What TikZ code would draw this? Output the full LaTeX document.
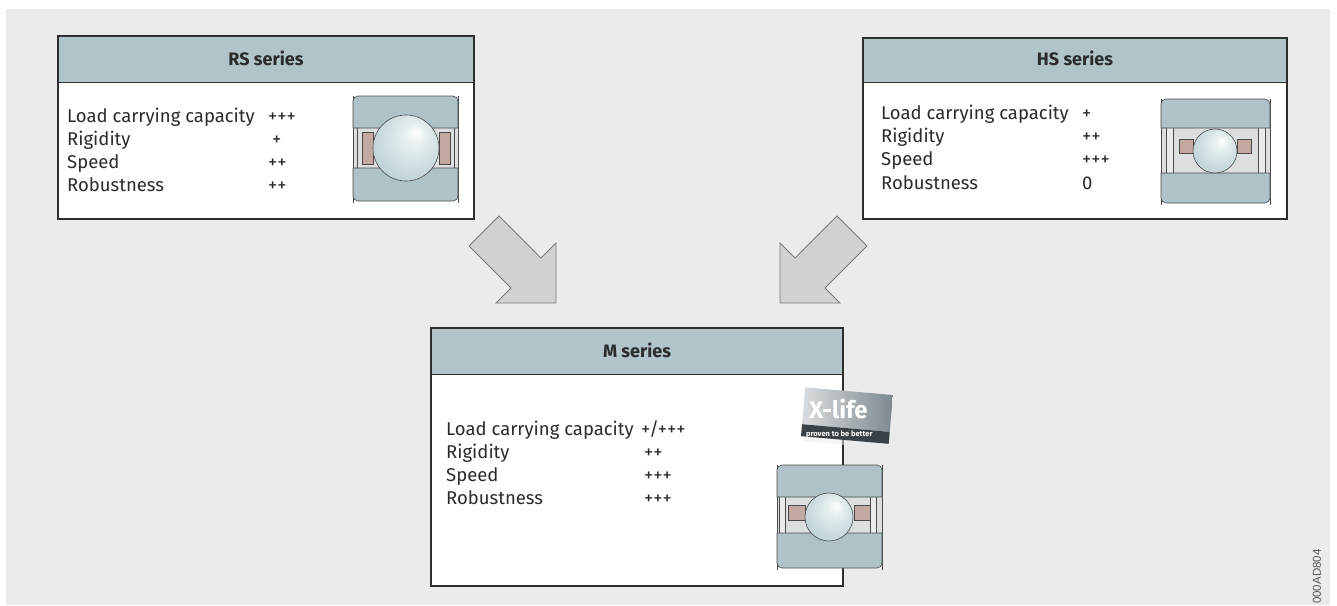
\documentclass[tikz,border=0pt]{standalone}
\usepackage{fontspec}
\setmainfont{Fira Sans}
\newfontfamily\idfont{Liberation Sans}
\usetikzlibrary{calc}
\definecolor{bgc}{HTML}{EBEBED}
\definecolor{headc}{HTML}{B0C4CA}
\definecolor{borderc}{HTML}{2E2E2E}
\definecolor{textc}{HTML}{2B2B2B}
\definecolor{arrfill}{HTML}{D0D1D3}
\definecolor{arrdraw}{HTML}{7B7B7B}
\definecolor{ringc}{HTML}{AEC2C7}
\definecolor{ringd}{HTML}{4A4A4A}
\definecolor{midg}{HTML}{DDDEE0}
\definecolor{cagec}{HTML}{C3A9A1}
\definecolor{ballhi}{HTML}{E6EFF0}
\definecolor{ballmid}{HTML}{BCD1D5}
\definecolor{balledge}{HTML}{8FAEB4}
\definecolor{logol}{HTML}{DADDDF}
\definecolor{logor}{HTML}{7E898F}
\definecolor{logoband}{HTML}{3B4247}
\definecolor{idgray}{HTML}{555555}
\pgfdeclareradialshading{ballshade}{\pgfpoint{8bp}{12bp}}{color(0bp)=(white); color(8bp)=(ballhi); color(32bp)=(ballmid); color(50bp)=(balledge)}
\tikzset{
  seriesbox/.style={draw=borderc, line width=1.5pt, inner sep=0pt},
  headfill/.style={fill=headc},
  lbl/.style={font=\fontsize{18.5}{22}\selectfont, text=textc, anchor=base west, inner sep=0pt},
  ttl/.style={font=\fontsize{18}{22}\selectfont\bfseries, text=textc, anchor=base, inner sep=0pt},
  blockarrow/.style={fill=arrfill, draw=arrdraw, line width=0.9pt, line join=miter},
  ringst/.style={fill=ringc, draw=ringd, line width=0.6pt},
  cagest/.style={fill=cagec, draw=ringd, line width=0.5pt},
  plate/.style={fill=midg!60!white, draw=ringd, line width=0.5pt},
  ballst/.style={draw=ringd, line width=0.6pt},
}
% outer ring: x0, ytop, x1, yinner  (rounded outer corners only)
\newcommand{\ringtop}[4]{\draw[ringst] (#1,#4) -- (#1,#2+5) arc[start angle=180, end angle=90, radius=5pt] -- (#3-5,#2) arc[start angle=90, end angle=0, radius=5pt] -- (#3,#4) -- cycle;}
% inner ring: x0, yinner, x1, ybottom
\newcommand{\ringbot}[4]{\draw[ringst] (#1,#2) -- (#1,#4-5) arc[start angle=180, end angle=270, radius=5pt] -- (#3-5,#4) arc[start angle=270, end angle=360, radius=5pt] -- (#3,#2) -- cycle;}
\begin{document}
\begin{tikzpicture}[x=1pt,y=-1pt]
\useasboundingbox (0,0) rectangle (1337,605);
\fill[bgc] (6,9) rectangle (1330,605);

% ---------- RS box ----------
\coordinate (rs-nw) at (58,36);
\coordinate (rs-se) at (474,219);
\fill[white] (rs-nw) rectangle (rs-se);
\fill[headfill] (rs-nw) rectangle (474,82);
\draw[borderc, line width=1pt] (58,82) -- (474,82);
\draw[seriesbox] (rs-nw) rectangle (rs-se);
\node[ttl] (rs-title) at (266,65) {RS series};
\node[lbl] (rs-l1) at (67,122) {Load carrying capacity};
\node[lbl] (rs-l2) at (67,145) {Rigidity};
\node[lbl] (rs-l3) at (67,168) {Speed};
\node[lbl] (rs-l4) at (67,191) {Robustness};
\node[lbl] (rs-v1) at (268,122) {+++};
\node[lbl] (rs-v2) at (272,145) {+};
\node[lbl] (rs-v3) at (268,168) {++};
\node[lbl] (rs-v4) at (268,191) {++};
% RS bearing
\fill[midg] (353,126) rectangle (458,170);
\draw[ringd, line width=0.5pt] (353,96) -- (353,203) (458,96) -- (458,203);
\draw[ringd, line width=0.5pt] (357,128) -- (357,168) (454,128) -- (454,168);
\ringtop{353}{96}{458}{128}
\ringbot{353}{168}{458}{201}
\draw[cagest] (362,132) rectangle (373,164);
\draw[cagest] (439,132) rectangle (450,164);
\shade[shading=ballshade] (406,148) circle[radius=33pt];
\draw[ballst] (406,148) circle[radius=33pt];

% ---------- HS box ----------
\coordinate (hs-nw) at (863,38);
\coordinate (hs-se) at (1287,219);
\fill[white] (hs-nw) rectangle (hs-se);
\fill[headfill] (hs-nw) rectangle (1287,82);
\draw[borderc, line width=1pt] (863,82) -- (1287,82);
\draw[seriesbox] (hs-nw) rectangle (hs-se);
\node[ttl] (hs-title) at (1075,65) {HS series};
\node[lbl] (hs-l1) at (881,119) {Load carrying capacity};
\node[lbl] (hs-l2) at (881,142) {Rigidity};
\node[lbl] (hs-l3) at (881,165) {Speed};
\node[lbl] (hs-l4) at (881,189) {Robustness};
\node[lbl] (hs-v1) at (1082,119) {+};
\node[lbl] (hs-v2) at (1082,142) {++};
\node[lbl] (hs-v3) at (1082,165) {+++};
\node[lbl] (hs-v4) at (1082,189) {0};
% HS bearing
\fill[midg] (1161,126) rectangle (1270,175);
\draw[ringd, line width=0.5pt] (1161,99) -- (1161,205) (1270,99) -- (1270,205);
\draw[plate] (1166,126) rectangle (1173,175);
\draw[plate] (1258,126) rectangle (1265,175);
\ringtop{1161}{99}{1270}{128}
\ringbot{1161}{173}{1270}{203}
\draw[cagest] (1179,139) rectangle (1193,153);
\draw[cagest] (1237,139) rectangle (1251,153);
\shade[shading=ballshade] (1215,151) circle[radius=22pt];
\draw[ballst] (1215,151) circle[radius=22pt];

% ---------- arrows ----------
\draw[blockarrow] (469,246) -- (499,216) -- (541,258) -- (556,243) -- (556,303) -- (496,303) -- (511,288) -- cycle;
\draw[blockarrow] (867,246) -- (837,216) -- (795,258) -- (780,243) -- (780,303) -- (840,303) -- (825,288) -- cycle;

% ---------- M box ----------
\coordinate (m-nw) at (431,328);
\coordinate (m-se) at (843,586);
\fill[white] (m-nw) rectangle (m-se);
\fill[headfill] (m-nw) rectangle (843,374);
\draw[borderc, line width=1pt] (431,374) -- (843,374);
\draw[seriesbox] (m-nw) rectangle (m-se);
\node[ttl] (m-title) at (637,357) {M series};
\node[lbl] (m-l1) at (446,435) {Load carrying capacity};
\node[lbl] (m-l2) at (446,458) {Rigidity};
\node[lbl] (m-l3) at (446,481) {Speed};
\node[lbl] (m-l4) at (446,504) {Robustness};
\node[lbl] (m-v1) at (641,435) {+/+++};
\node[lbl] (m-v2) at (644,458) {++};
\node[lbl] (m-v3) at (644,481) {+++};
\node[lbl] (m-v4) at (644,504) {+++};
% M bearing
\fill[midg] (777,495) rectangle (882,535);
\draw[ringd, line width=0.5pt] (777,465) -- (777,570) (882,465) -- (882,570);
\draw[plate] (779,489) rectangle (785,535);
\draw[plate] (870,489) rectangle (876,535);
\ringtop{777}{465}{882}{497}
\ringbot{777}{533}{882}{568}
\draw[cagest] (788,505) rectangle (805,520);
\draw[cagest] (854,505) rectangle (870,520);
\shade[shading=ballshade] (829,517) circle[radius=24pt];
\draw[ballst] (829,517) circle[radius=24pt];
% X-life logo
\begin{scope}[rotate around={-5:(846,415)}]
  \fill[white!85!gray, opacity=0.5] (806,396) rectangle (894,445);
  \shade[left color=logol, right color=logor] (803,391) rectangle (891,428);
  \fill[logoband] (803,428) rectangle (891,440);
  \node[font=\fontsize{24}{24}\selectfont\bfseries, text=white, inner sep=0pt] (xlife) at (838,410) {X-life};
  \node[font=\fontsize{7.5}{7.5}\selectfont\bfseries, text=white, inner sep=0pt] (proven) at (841,434.5) {proven to be better};
\end{scope}

% ---------- id ----------
\node[rotate=90, anchor=west, font=\idfont\fontsize{11.5}{12}\selectfont, text=idgray, inner sep=0pt] (id) at (1317,604) {000AD804};
\end{tikzpicture}
\end{document}
